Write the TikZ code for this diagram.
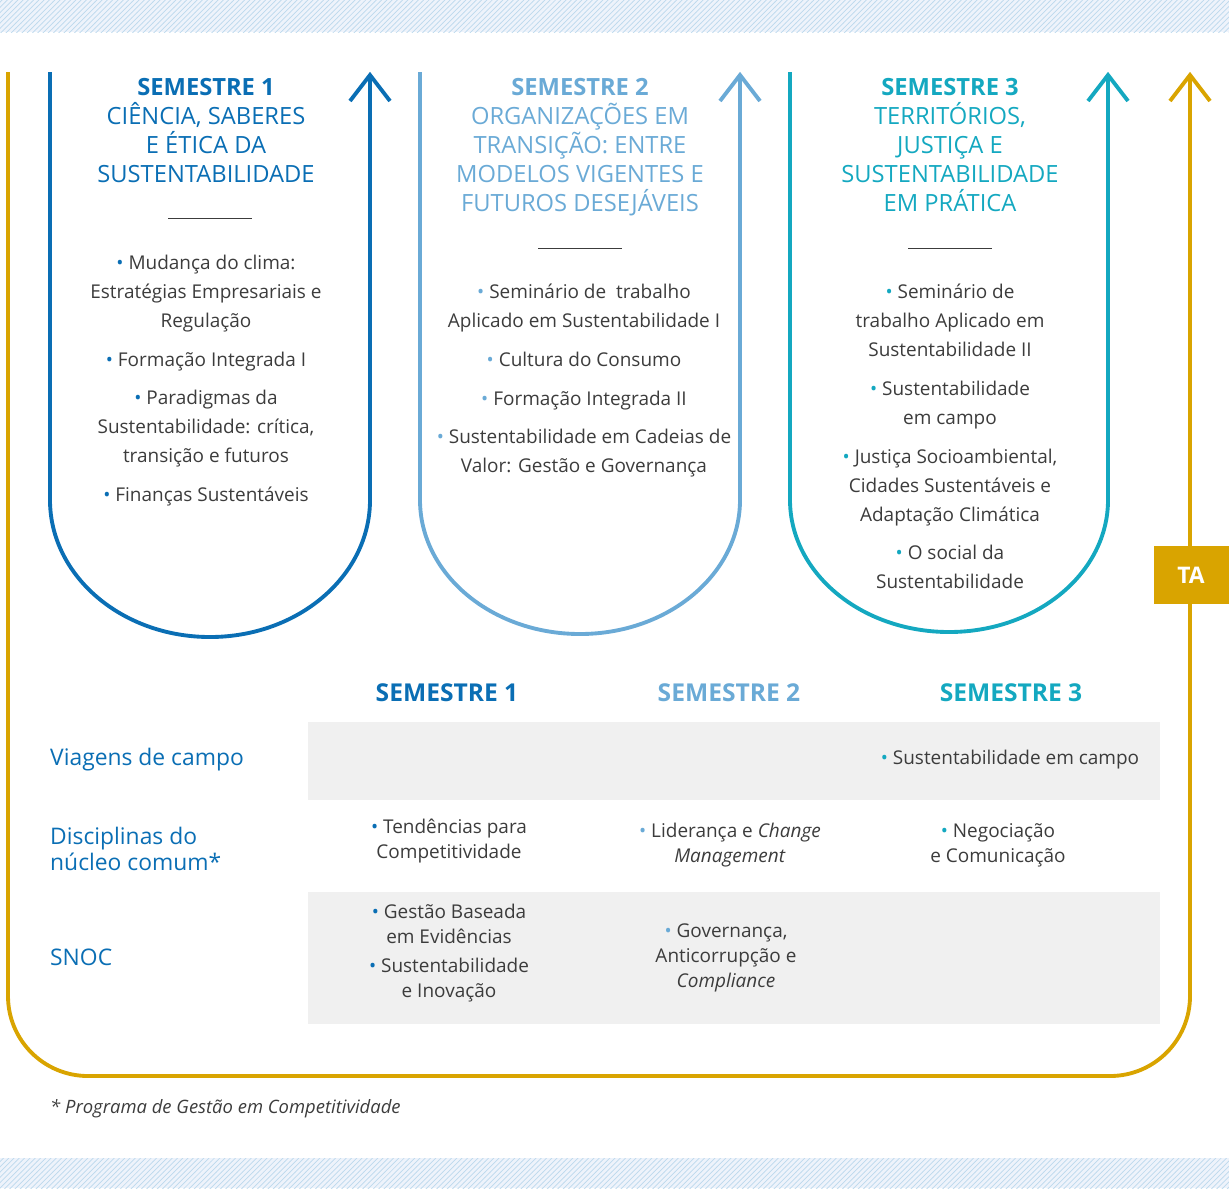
\documentclass[tikz,border=0pt]{standalone}
\usepackage{fontspec}
\setmainfont{Open Sans}
\usetikzlibrary{patterns,positioning}
\definecolor{semA}{HTML}{0A6EB4}
\definecolor{semB}{HTML}{6AAAD6}
\definecolor{semC}{HTML}{14A8C0}
\definecolor{gold}{HTML}{D9A400}
\definecolor{rowgrey}{HTML}{F0F0F0}
\definecolor{band}{HTML}{EEF3FB}
\definecolor{txt}{HTML}{3C3C3C}
\newcommand{\bul}[1]{{\color{#1}\textbullet}~}
\begin{document}
\begin{tikzpicture}[x=0.02cm,y=-0.02cm,
    loop/.style={line width=2.2pt},
    title/.style={anchor=north, align=center, font=\fontsize{13.5}{16.5}\selectfont},
    items/.style={anchor=north, align=center, text=txt, font=\fontsize{10.8}{16.5}\selectfont},
    cell/.style={align=center, text=txt, font=\fontsize{10.8}{14.2}\selectfont},
    rowname/.style={anchor=west, align=left, text=semA, font=\fontsize{13}{14.5}\selectfont},
    head/.style={font=\bfseries\fontsize{14}{16}\selectfont}
  ]
  \useasboundingbox (0,0) rectangle (1229,1188);
  % hatched bands
  \fill[band] (0,0) rectangle (1229,32);
  \fill[band] (0,1158) rectangle (1229,1188);
  \fill[pattern=north east lines, pattern color=semB!45] (0,0) rectangle (1229,32);
  \fill[pattern=north east lines, pattern color=semB!45] (0,1158) rectangle (1229,1188);
  % grey rows
  \fill[rowgrey] (308,722) rectangle (1160,800);
  \fill[rowgrey] (308,892) rectangle (1160,1024);
  % outer loop
  \draw[loop, draw=gold] (8,72) -- (8,996) arc[start angle=180, end angle=90, radius=80] -- (1110,1076)
    arc[start angle=90, end angle=0, radius=80] -- (1190,74);
  \draw[loop, draw=gold] (1170,101) -- (1190,75) -- (1210,101);
  \node[fill=gold, minimum width=1.5cm, minimum height=1.16cm, text=white, font=\bfseries\fontsize{13}{15}\selectfont] (ta) at (1191,575) {TA};
  % semester loops
  \foreach \xl/\xr/\yb/\c in {50/370/637/semA, 420/740/634/semB, 790/1108/632/semC}{
    \draw[loop, draw=\c] (\xl,72) -- (\xl,500)
      arc[start angle=180, end angle=0, x radius={(\xr-\xl)/2}, y radius={\yb-500}] -- (\xr,74);
    \draw[loop, draw=\c] (\xr-20,101) -- (\xr,75) -- (\xr+20,101);
  }
  % semester 1
  \node[title, text=semA] (t1) at (206,72) {\textbf{SEMESTRE 1}\\CIÊNCIA, SABERES\\E ÉTICA DA\\SUSTENTABILIDADE};
  \draw[txt, thin] (168,218) -- (252,218);
  \node[items] (i1) at (206,249) {\bul{semA}Mudança do clima:\\Estratégias Empresariais e\\Regulação\\[5.5pt]
    \bul{semA}Formação Integrada I\\[5.5pt]\bul{semA}Paradigmas da\\Sustentabilidade: crítica,\\transição e futuros\\[5.5pt]
    \bul{semA}Finanças Sustentáveis};
  % semester 2
  \node[title, text=semB] (t2) at (580,72) {\textbf{SEMESTRE 2}\\ORGANIZAÇÕES EM\\TRANSIÇÃO: ENTRE\\MODELOS VIGENTES E\\FUTUROS DESEJÁVEIS};
  \draw[txt, thin] (538,248) -- (622,248);
  \node[items] (i2) at (584,278) {\bul{semB}Seminário de\ \ trabalho\\Aplicado em Sustentabilidade I\\[5.5pt]
    \bul{semB}Cultura do Consumo\\[5.5pt]\bul{semB}Formação Integrada II\\[5.5pt]
    \bul{semB}Sustentabilidade em Cadeias de\\Valor: Gestão e Governança};
  % semester 3
  \node[title, text=semC] (t3) at (950,72) {\textbf{SEMESTRE 3}\\TERRITÓRIOS,\\JUSTIÇA E\\SUSTENTABILIDADE\\EM PRÁTICA};
  \draw[txt, thin] (908,248) -- (992,248);
  \node[items] (i3) at (950,278) {\bul{semC}Seminário de\\trabalho Aplicado em\\Sustentabilidade II\\[5.5pt]
    \bul{semC}Sustentabilidade\\em campo\\[5.5pt]\bul{semC}Justiça Socioambiental,\\Cidades Sustentáveis e\\Adaptação Climática\\[5.5pt]
    \bul{semC}O social da\\Sustentabilidade};
  % table
  \node[head, text=semA] (h1) at (447,693) {SEMESTRE 1};
  \node[head, text=semB] (h2) at (729,693) {SEMESTRE 2};
  \node[head, text=semC] (h3) at (1011,693) {SEMESTRE 3};
  \node[rowname] (r1) at (44,760) {Viagens de campo};
  \node[rowname] (r2) at (44,849) {Disciplinas do\\núcleo comum*};
  \node[rowname] (r3) at (44,957) {SNOC};
  \node[cell] (c13) at (1010,760) {\bul{semC}Sustentabilidade em campo};
  \node[cell] (c21) at (449,841) {\bul{semA}Tendências para\\Competitividade};
  \node[cell] (c22) at (730,845) {\bul{semB}Liderança e \textit{Change}\\\textit{Management}};
  \node[cell] (c23) at (998,845) {\bul{semC}Negociação\\e Comunicação};
  \node[cell] (c31) at (449,953) {\bul{semA}Gestão Baseada\\em Evidências\\[2pt]\bul{semA}Sustentabilidade\\e Inovação};
  \node[cell] (c32) at (726,958) {\bul{semB}Governança,\\Anticorrupção e\\\textit{Compliance}};
  \node[anchor=west, text=txt, font=\itshape\fontsize{10.5}{12}\selectfont] (fn) at (44,1109) {* Programa de Gestão em Competitividade};
\end{tikzpicture}
\end{document}
